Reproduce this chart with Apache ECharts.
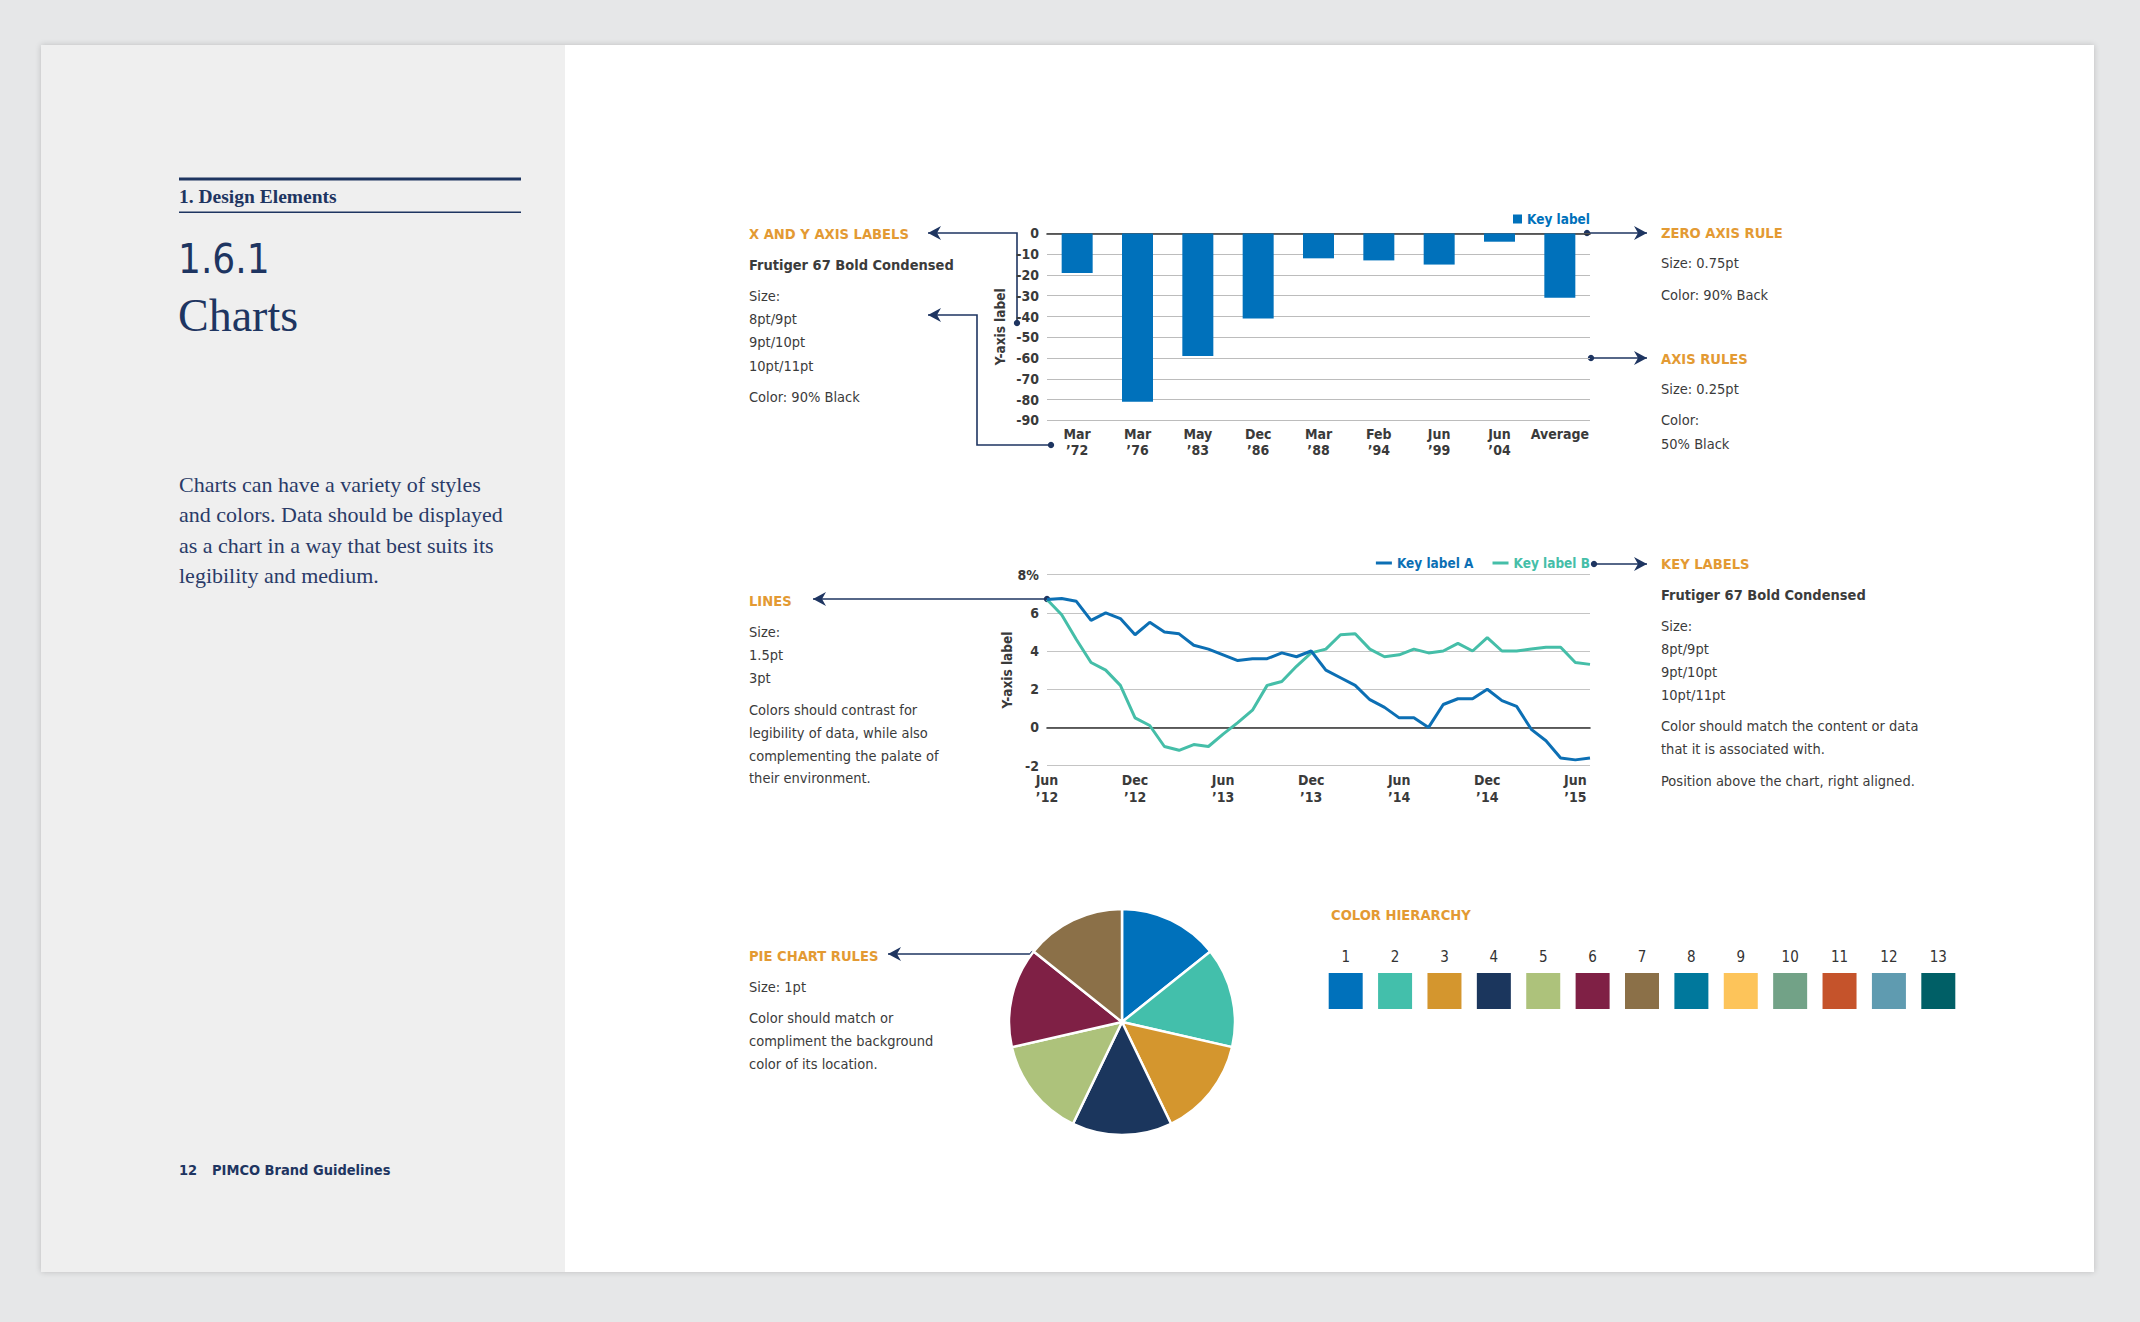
<!DOCTYPE html>
<html><head><meta charset="utf-8">
<script src="https://cdn.jsdelivr.net/npm/echarts@6/dist/echarts.min.js"></script>
<style>
html,body{margin:0;padding:0;background:#e6e7e8;}
#page{position:absolute;left:41px;top:45px;width:2053px;height:1227px;background:#fff;box-shadow:0 0 6px rgba(0,0,0,0.18);}
#side{position:absolute;left:41px;top:45px;width:524px;height:1227px;background:#efefef;}
#c{position:absolute;left:0;top:0;width:2140px;height:1322px;}
</style>
</head><body><div id="page"></div><div id="side"></div><div id="c"></div>
<script>
// ---------- data ----------
const barCategories = ['Mar ’72','Mar ’76','May ’83','Dec ’86','Mar ’88','Feb ’94','Jun ’99','Jun ’04','Average'];
const barValues = [-19,-81,-59,-41,-12,-13,-15,-4,-31];
const barSeriesName = 'Key label';

const lineMonths = ['Jun ’12','Jul ’12','Aug ’12','Sep ’12','Oct ’12','Nov ’12','Dec ’12',
 'Jan ’13','Feb ’13','Mar ’13','Apr ’13','May ’13','Jun ’13','Jul ’13','Aug ’13','Sep ’13','Oct ’13','Nov ’13','Dec ’13',
 'Jan ’14','Feb ’14','Mar ’14','Apr ’14','May ’14','Jun ’14','Jul ’14','Aug ’14','Sep ’14','Oct ’14','Nov ’14','Dec ’14',
 'Jan ’15','Feb ’15','Mar ’15','Apr ’15','May ’15','Jun ’15','Jul ’15'];
const lineA = [6.7,6.75,6.6,5.6,6.0,5.7,4.85,5.5,5.0,4.9,4.3,4.1,3.8,3.5,3.6,3.6,3.9,3.7,4.0,3.0,2.6,2.2,1.45,1.05,0.5,0.5,0.0,1.2,1.5,1.5,2.0,1.4,1.1,-0.1,-0.7,-1.6,-1.7,-1.6];
const lineB = [6.7,5.9,4.6,3.4,3.0,2.2,0.5,0.1,-1.0,-1.2,-0.9,-1.0,-0.35,0.25,0.9,2.2,2.4,3.2,3.9,4.1,4.85,4.9,4.1,3.7,3.8,4.1,3.9,4.0,4.4,4.0,4.7,4.0,4.0,4.1,4.2,4.2,3.4,3.3];
const lineNames = ['Key label A','Key label B'];

const pieNames = ['Slice 1','Slice 2','Slice 3','Slice 4','Slice 5','Slice 6','Slice 7'];
const pieValues = [1,1,1,1,1,1,1];

const hierarchyLabels = ['1','2','3','4','5','6','7','8','9','10','11','12','13'];
const hierarchyValues = [1,1,1,1,1,1,1,1,1,1,1,1,1];
const palette = ['#0071bb','#43bfab','#d4962e','#1b365d','#adc27b','#7f2045','#8b7048','#00789c','#fdc45a','#72a287','#c5532b','#5f9bb0','#005f66'];

// ---------- styles ----------
const N = '"Liberation Sans Narrow","DejaVu Sans Condensed","Roboto Condensed",Roboto,sans-serif';
const S = '"Liberation Serif","DejaVu Serif",serif';
const NAVY = '#1e3561';
const TXT = '#3b3b3b';
const ORG = '#e39a33';
const BODY = '14.5px ' + N;
const BOLD = 'bold 14.5px ' + N;
const HEAD = 'bold 14.6px ' + N;

const g = [];
function t(x, y, text, font, fill, align) {
  g.push({type:'text', x:x, y:y, silent:true,
    style:{text:text, font:font, fill:fill||TXT, textAlign:align||'left', textVerticalAlign:'middle', align:align||'left', verticalAlign:'middle'}});
}
function arrow(pts, headAt, dotAt) {
  g.push({type:'polyline', silent:true, shape:{points:pts}, style:{stroke:NAVY, lineWidth:1.6, fill:null}});
  const d = pts[dotAt === 'start' ? 0 : pts.length-1];
  g.push({type:'circle', silent:true, shape:{cx:d[0], cy:d[1], r:3.2}, style:{fill:NAVY}});
  const tip = pts[headAt === 'start' ? 0 : pts.length-1];
  const prev = pts[headAt === 'start' ? 1 : pts.length-2];
  const dir = tip[0] < prev[0] ? -1 : 1;
  const [tx,ty] = tip;
  g.push({type:'polygon', silent:true, shape:{points:[[tx,ty],[tx-dir*13,ty-7],[tx-dir*9,ty],[tx-dir*13,ty+7]]}, style:{fill:NAVY}});
}

// left panel
g.push({type:'rect', silent:true, shape:{x:179,y:177.5,width:342,height:3}, style:{fill:NAVY}});
g.push({type:'rect', silent:true, shape:{x:179,y:211.5,width:342,height:1.5}, style:{fill:NAVY}});
t(179,196,'1. Design Elements','bold 19.5px '+S,NAVY);
t(178,259,'1.6.1','40px '+N,NAVY);
t(178,315,'Charts','46px '+S,NAVY);
['Charts can have a variety of styles','and colors. Data should be displayed','as a chart in a way that best suits its','legibility and medium.'].forEach((s,i)=>t(179,484+i*30.5,s,'22px '+S,'#2a3b68'));
t(179,1170,'12','bold 14.5px '+N,NAVY);
t(212,1170,'PIMCO Brand Guidelines','bold 14.5px '+N,NAVY);

// annotations - bar
t(749,233,'X AND Y AXIS LABELS',HEAD,ORG);
t(749,265,'Frutiger 67 Bold Condensed',BOLD,TXT);
['Size:','8pt/9pt','9pt/10pt','10pt/11pt'].forEach((s,i)=>t(749,296+i*23.2,s,BODY,TXT));
t(749,397,'Color: 90% Black',BODY,TXT);
t(1661,232,'ZERO AXIS RULE',HEAD,ORG);
t(1661,263,'Size: 0.75pt',BODY,TXT);
t(1661,295,'Color: 90% Back',BODY,TXT);
t(1661,358,'AXIS RULES',HEAD,ORG);
t(1661,389,'Size: 0.25pt',BODY,TXT);
t(1661,420,'Color:',BODY,TXT);
t(1661,443.5,'50% Black',BODY,TXT);
// lines
t(749,600.5,'LINES',HEAD,ORG);
['Size:','1.5pt','3pt'].forEach((s,i)=>t(749,632+i*23.2,s,BODY,TXT));
['Colors should contrast for','legibility of data, while also','complementing the palate of','their environment.'].forEach((s,i)=>t(749,710+i*22.8,s,BODY,TXT));
t(1661,563.5,'KEY LABELS',HEAD,ORG);
t(1661,595,'Frutiger 67 Bold Condensed',BOLD,TXT);
['Size:','8pt/9pt','9pt/10pt','10pt/11pt'].forEach((s,i)=>t(1661,626+i*23,s,BODY,TXT));
t(1661,726,'Color should match the content or data',BODY,TXT);
t(1661,749,'that it is associated with.',BODY,TXT);
t(1661,781,'Position above the chart, right aligned.',BODY,TXT);
// pie
t(749,955,'PIE CHART RULES',HEAD,ORG);
t(749,987,'Size: 1pt',BODY,TXT);
['Color should match or','compliment the background','color of its location.'].forEach((s,i)=>t(749,1018+i*23.2,s,BODY,TXT));
t(1331,914,'COLOR HIERARCHY',HEAD,ORG);

// arrows
arrow([[928,233],[1017,233],[1017,323]],'start','end');
arrow([[928,315],[977,315],[977,445],[1051,445]],'start','end');
arrow([[1587,233],[1647,233]],'end','start');
arrow([[1591,358],[1647,358]],'end','start');
arrow([[813,599],[1047,599]],'start','end');
arrow([[1594,564],[1647,564]],'end','start');
arrow([[888,954],[1033,954]],'start','end');

const axisLbl = {fontFamily:N, fontWeight:'bold', fontSize:14, color:'#3a3a3a'};

const chart = echarts.init(document.getElementById('c'), null, {renderer:'svg', width:2140, height:1322});
chart.setOption({
  backgroundColor:'transparent',
  animation:false,
  graphic:{elements:g},
  legend:[
    {data:[barSeriesName], right:550, top:212, padding:0, icon:'rect', itemWidth:9, itemHeight:9, itemGap:6,
     textStyle:{color:'#0071bb', fontFamily:N, fontWeight:'bold', fontSize:13.5}},
    {data:[{name:lineNames[0], textStyle:{color:'#0c6fb4'}},{name:lineNames[1], textStyle:{color:'#45bea8'}}],
     right:550, top:556, padding:0, icon:'rect', itemWidth:16, itemHeight:3, itemGap:19,
     textStyle:{fontFamily:N, fontWeight:'bold', fontSize:13.5}}
  ],
  grid:[
    {left:1047, top:233.4, width:543, height:187},
    {left:1047, top:574.6, width:543, height:191},
    {left:1321, top:973, width:642, height:36}
  ],
  xAxis:[
    {gridIndex:0, type:'category', data:barCategories, position:'bottom',
     axisLine:{show:false, onZero:false}, axisTick:{show:false},
     axisLabel:Object.assign({margin:6, lineHeight:16, interval:0, formatter:s=>s.replace(' ','\n')}, axisLbl)},
    {gridIndex:0, type:'category', data:barCategories, position:'top',
     axisLine:{show:true, onZero:false, lineStyle:{color:'#333', width:1.6}}, axisTick:{show:false}, axisLabel:{show:false}},
    {gridIndex:1, type:'category', data:lineMonths, boundaryGap:false, position:'bottom',
     axisLine:{show:false, onZero:false}, axisTick:{show:false},
     axisLabel:Object.assign({margin:6, lineHeight:17, interval:(i)=>i%6===0, formatter:s=>s.replace(' ','\n')}, axisLbl)},
    {gridIndex:1, type:'category', data:lineMonths, boundaryGap:false, position:'bottom',
     axisLine:{show:true, onZero:true, lineStyle:{color:'#333', width:1.6}}, axisTick:{show:false}, axisLabel:{show:false}},
    {gridIndex:2, type:'category', data:hierarchyLabels, position:'top',
     axisLine:{show:false, onZero:false}, axisTick:{show:false},
     axisLabel:{margin:9, fontFamily:N, fontSize:15, color:'#333'}}
  ],
  yAxis:[
    {gridIndex:0, type:'value', min:-90, max:0, interval:10,
     name:'Y-axis label', nameLocation:'middle', nameGap:40, nameRotate:90,
     nameTextStyle:{fontFamily:N, fontWeight:'bold', fontSize:13.5, color:'#3a3a3a'},
     axisLine:{show:false}, axisTick:{show:false},
     splitLine:{lineStyle:{color:'#bcbcbc', width:1}},
     axisLabel:Object.assign({margin:8}, axisLbl)},
    {gridIndex:1, type:'value', min:-2, max:8, interval:2,
     name:'Y-axis label', nameLocation:'middle', nameGap:33, nameRotate:90,
     nameTextStyle:{fontFamily:N, fontWeight:'bold', fontSize:13.5, color:'#3a3a3a'},
     axisLine:{show:false}, axisTick:{show:false},
     splitLine:{lineStyle:{color:'#c4c4c4', width:1}},
     axisLabel:Object.assign({margin:8, formatter:v=>v===8?'8%':String(v)}, axisLbl)},
    {gridIndex:2, type:'value', min:0, max:1, show:false}
  ],
  series:[
    {type:'bar', name:barSeriesName, xAxisIndex:0, yAxisIndex:0, data:barValues, barWidth:31,
     itemStyle:{color:'#0071bb'}, silent:true},
    {type:'line', name:lineNames[0], xAxisIndex:2, yAxisIndex:1, data:lineA, symbol:'none', silent:true,
     lineStyle:{width:3, color:'#0c6fb4'}, itemStyle:{color:'#0c6fb4'}, z:4},
    {type:'line', name:lineNames[1], xAxisIndex:2, yAxisIndex:1, data:lineB, symbol:'none', silent:true,
     lineStyle:{width:3, color:'#45bea8'}, itemStyle:{color:'#45bea8'}, z:3},
    {type:'pie', center:[1122,1022], radius:113, startAngle:90, clockwise:true, silent:true,
     label:{show:false}, labelLine:{show:false},
     itemStyle:{borderColor:'#fff', borderWidth:2.5},
     data:pieNames.map((n,i)=>({name:n, value:pieValues[i], itemStyle:{color:palette[i]}}))},
    {type:'bar', xAxisIndex:4, yAxisIndex:2, barWidth:34, silent:true,
     data:hierarchyValues.map((v,i)=>({value:v, itemStyle:{color:palette[i]}}))}
  ]
});
</script></body></html>
